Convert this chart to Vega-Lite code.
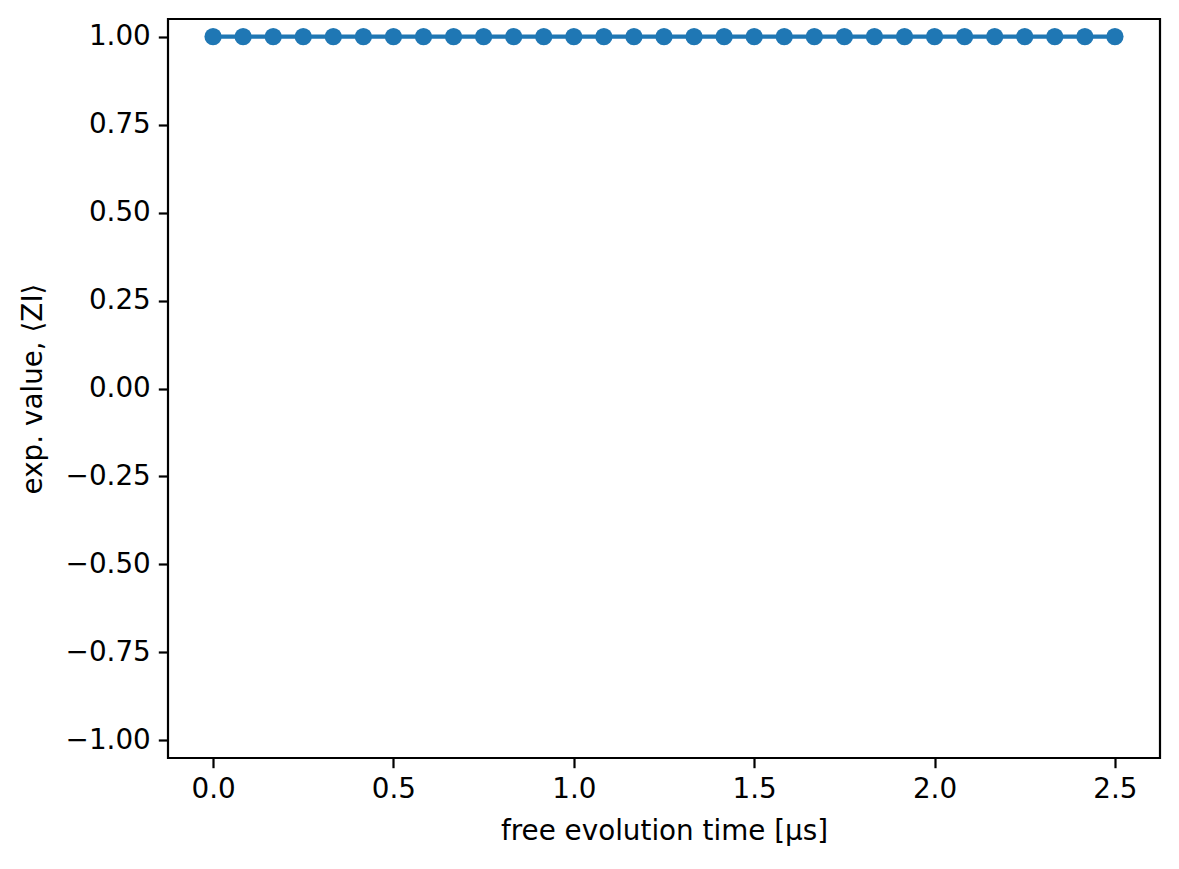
{
  "$schema": "https://vega.github.io/schema/vega-lite/v6.json",
  "description": "Expectation value <ZI> versus free evolution time",
  "width": 992,
  "height": 739,
  "autosize": {"type": "none"},
  "padding": {"left": 168, "top": 19, "right": 19, "bottom": 111},
  "background": "white",
  "data": {
    "values": [
      {"t": 0.0, "zi": 1.0},
      {"t": 0.0833, "zi": 1.0},
      {"t": 0.1667, "zi": 1.0},
      {"t": 0.25, "zi": 1.0},
      {"t": 0.3333, "zi": 1.0},
      {"t": 0.4167, "zi": 1.0},
      {"t": 0.5, "zi": 1.0},
      {"t": 0.5833, "zi": 1.0},
      {"t": 0.6667, "zi": 1.0},
      {"t": 0.75, "zi": 1.0},
      {"t": 0.8333, "zi": 1.0},
      {"t": 0.9167, "zi": 1.0},
      {"t": 1.0, "zi": 1.0},
      {"t": 1.0833, "zi": 1.0},
      {"t": 1.1667, "zi": 1.0},
      {"t": 1.25, "zi": 1.0},
      {"t": 1.3333, "zi": 1.0},
      {"t": 1.4167, "zi": 1.0},
      {"t": 1.5, "zi": 1.0},
      {"t": 1.5833, "zi": 1.0},
      {"t": 1.6667, "zi": 1.0},
      {"t": 1.75, "zi": 1.0},
      {"t": 1.8333, "zi": 1.0},
      {"t": 1.9167, "zi": 1.0},
      {"t": 2.0, "zi": 1.0},
      {"t": 2.0833, "zi": 1.0},
      {"t": 2.1667, "zi": 1.0},
      {"t": 2.25, "zi": 1.0},
      {"t": 2.3333, "zi": 1.0},
      {"t": 2.4167, "zi": 1.0},
      {"t": 2.5, "zi": 1.0}
    ]
  },
  "encoding": {
    "x": {
      "field": "t",
      "type": "quantitative",
      "title": "free evolution time [μs]",
      "scale": {"domain": [-0.125, 2.625], "nice": false, "zero": false},
      "axis": {"values": [0, 0.5, 1, 1.5, 2, 2.5], "format": ".1f"}
    },
    "y": {
      "field": "zi",
      "type": "quantitative",
      "title": "exp. value, ⟨ZI⟩",
      "scale": {"domain": [-1.05, 1.05], "nice": false, "zero": false},
      "axis": {
        "values": [-1, -0.75, -0.5, -0.25, 0, 0.25, 0.5, 0.75, 1],
        "format": ".2f"
      }
    }
  },
  "layer": [
    {"mark": {"type": "line", "color": "#1f77b4", "strokeWidth": 4.2}},
    {"mark": {"type": "circle", "color": "#1f77b4", "opacity": 1, "size": 300}}
  ],
  "config": {
    "view": {"stroke": "black", "strokeWidth": 2.2},
    "axis": {
      "domain": false,
      "grid": false,
      "ticks": true,
      "tickColor": "black",
      "tickWidth": 2.2,
      "tickSize": 9.7,
      "labelFont": "DejaVu Sans",
      "labelFontSize": 27.8,
      "labelColor": "black",
      "labelPadding": 8,
      "titleFont": "DejaVu Sans",
      "titleFontSize": 27.8,
      "titleFontWeight": "normal",
      "titleColor": "black"
    },
    "axisX": {"titlePadding": 14},
    "axisY": {"titlePadding": 18}
  }
}
